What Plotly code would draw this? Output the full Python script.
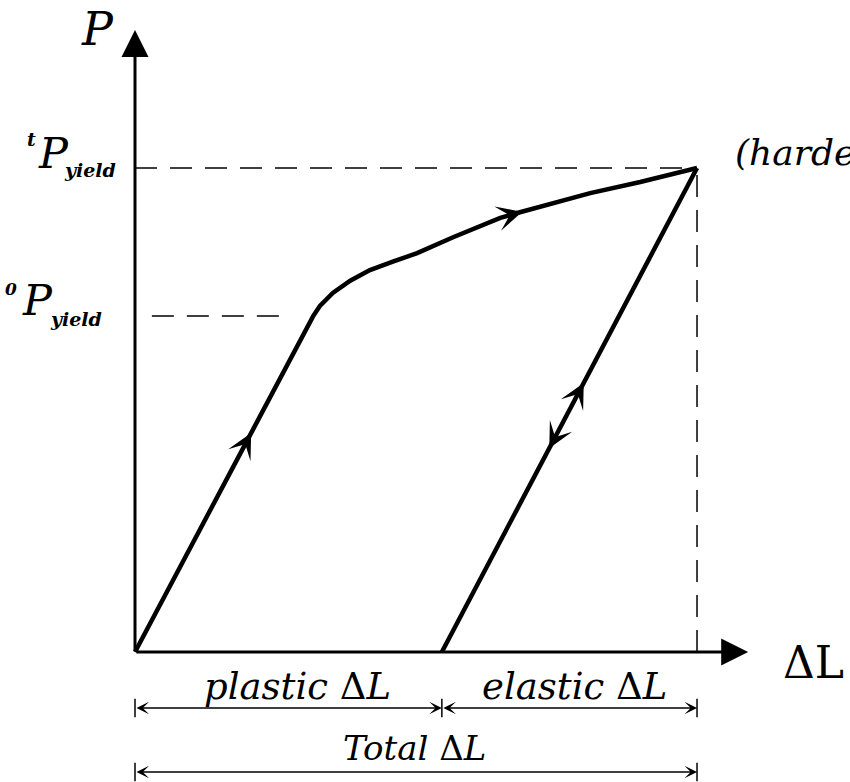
import plotly.graph_objects as go

# ---------------- data (ΔL units: total ΔL = 10 ; P units: tP_yield = 10) -------------
load_dl = [0.0, 3.17, 3.29, 3.52, 3.83, 4.18, 4.60, 5.02, 5.66, 6.50, 6.80, 8.10, 8.99, 10.0]
load_p = [0.0, 6.94, 7.15, 7.42, 7.67, 7.89, 8.07, 8.24, 8.57, 8.97, 9.07, 9.48, 9.71, 10.0]
unload_dl = [10.0, 5.46]
unload_p = [10.0, 0.0]
p_yield0 = 6.94
p_yield_t = 10.0
plastic_dl = 5.46
total_dl = 10.0
dim_bounds = [0.0, plastic_dl, total_dl]
yield0_dash_dl = [0.30, 2.76]
axis_tip_dl = 10.91
axis_tip_p = 12.85
dim_level_1 = -1.157
dim_level_2 = -2.479

W, H = 850, 782
X_RANGE = [-2.402, 12.722]
Y_RANGE = [-2.686, 13.471]
FONT = "DejaVu Serif"

fig = go.Figure()

dash = dict(color="black", width=1.5, dash="22px,13px")
fig.add_trace(go.Scatter(x=[0, total_dl], y=[p_yield_t, p_yield_t], mode="lines", line=dash, hoverinfo="skip"))
fig.add_trace(go.Scatter(x=[total_dl, total_dl], y=[0, p_yield_t], mode="lines", line=dash, hoverinfo="skip"))
fig.add_trace(go.Scatter(x=yield0_dash_dl, y=[p_yield0, p_yield0], mode="lines", line=dash, hoverinfo="skip"))

curve = dict(color="black", width=4.5)
fig.add_trace(go.Scatter(x=load_dl, y=load_p, mode="lines", line=curve, hoverinfo="skip"))
fig.add_trace(go.Scatter(x=unload_dl, y=unload_p, mode="lines", line=curve, hoverinfo="skip"))

annotations = []


def arrow(tip, tail, width, size, head):
    annotations.append(dict(
        x=tip[0], y=tip[1], ax=tail[0], ay=tail[1], xref="x", yref="y", axref="x", ayref="y",
        text="", showarrow=True, arrowhead=head, arrowwidth=width, arrowsize=size,
        arrowcolor="black", standoff=0))


def along(p0, p1, f):
    return (p0[0] + f * (p1[0] - p0[0]), p0[1] + f * (p1[1] - p0[1]))


# axes
arrow((axis_tip_dl, 0), (0, 0), 3, 1.8, 2)
arrow((0, axis_tip_p), (0, 0), 3, 1.8, 2)

# flow arrows on the curves
L0 = (load_dl[0], load_p[0]); L1 = (load_dl[1], load_p[1])
arrow(along(L0, L1, 0.652), along(L0, L1, 0.58), 2, 2.1, 3)
H0 = (load_dl[9], load_p[9]); H1 = (load_dl[11], load_p[11])
arrow(along(H0, H1, 0.241), along(H0, H1, 0.08), 2, 2.1, 3)
U0 = (unload_dl[1], unload_p[1]); U1 = (unload_dl[0], unload_p[0])
arrow(along(U0, U1, 0.556), along(U0, U1, 0.48), 2, 2.1, 3)
arrow(along(U0, U1, 0.421), along(U0, U1, 0.50), 2, 2.1, 3)

# dimension arrows
def dim(x0, x1, y):
    annotations.append(dict(
        x=x1, y=y, ax=x0, ay=y, xref="x", yref="y", axref="x", ayref="y",
        text="", showarrow=True, arrowside="end+start", arrowhead=3, startarrowhead=3,
        arrowwidth=1.5, arrowsize=1.4, startarrowsize=1.4, arrowcolor="black",
        standoff=0, startstandoff=0))

dim(dim_bounds[0], dim_bounds[1], dim_level_1)
dim(dim_bounds[1], dim_bounds[2], dim_level_1)
dim(dim_bounds[0], dim_bounds[2], dim_level_2)

shapes = []
for lvl, bounds in ((dim_level_1, dim_bounds), (dim_level_2, [dim_bounds[0], dim_bounds[2]])):
    for b in bounds:
        shapes.append(dict(type="line", xref="x", yref="y", x0=b, x1=b, y0=lvl - 0.19, y1=lvl + 0.19,
                           line=dict(color="black", width=1.5)))


def label(text, xp, yp, size, xanchor="center"):
    annotations.append(dict(
        text=text, x=xp / W, y=1 - yp / H, xref="paper", yref="paper",
        xanchor=xanchor, yanchor="middle", showarrow=False,
        font=dict(family=FONT, size=size, color="black")))


label("<i>P</i>", 97, 29, 46)
label("<b><i>t</i></b>", 31, 139, 19)
label("<i>P</i>", 54, 153, 43)
label("<b><i>yield</i></b>", 90, 170, 19)
label("<b><i>0</i></b>", 11, 289, 17)
label("<i>P</i>", 37, 300, 43)
label("<b><i>yield</i></b>", 76, 319, 19)
label("<i>(hardening)</i>", 733, 152, 36, xanchor="left")
label("ΔL", 813, 662, 44)
label("<i>plastic </i>Δ<i>L</i>", 297, 686, 37)
label("<i>elastic </i>Δ<i>L</i>", 574, 686, 37)
label("<i>Total </i>Δ<i>L</i>", 414, 748, 34)

fig.update_layout(
    width=W, height=H, margin=dict(l=0, r=0, t=0, b=0),
    paper_bgcolor="white", plot_bgcolor="white", showlegend=False,
    xaxis=dict(range=X_RANGE, visible=False, fixedrange=True),
    yaxis=dict(range=Y_RANGE, visible=False, fixedrange=True),
    annotations=annotations, shapes=shapes,
)

fig.write_html("out.html", config={"displayModeBar": False})
